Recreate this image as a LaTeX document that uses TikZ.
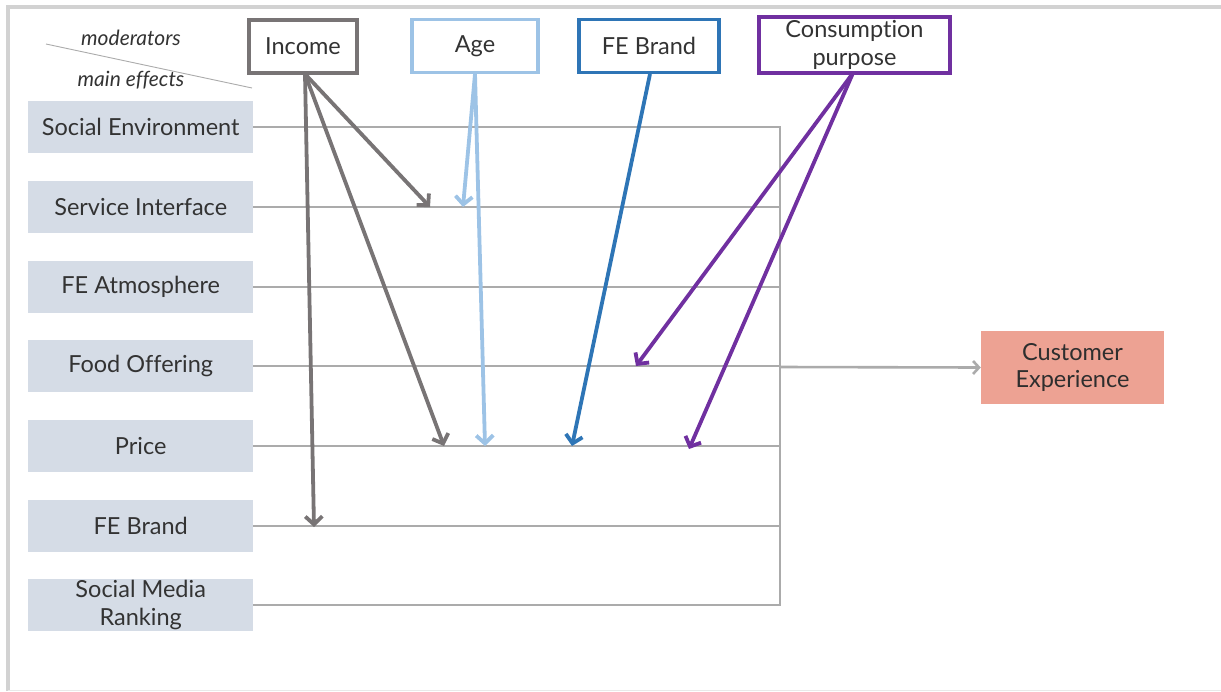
\documentclass[tikz,border=0pt]{standalone}
\usepackage{fontspec}
\setmainfont{Lato}[Ligatures=NoCommon]
\usetikzlibrary{arrows.meta}
\definecolor{framegray}{HTML}{D2D2D2}
\definecolor{linegray}{HTML}{ABABAB}
\definecolor{boxfill}{HTML}{D5DCE6}
\definecolor{txt}{HTML}{333333}
\definecolor{incomec}{HTML}{787475}
\definecolor{agec}{HTML}{9DC3E6}
\definecolor{brandc}{HTML}{2E75B6}
\definecolor{purposec}{HTML}{7030A0}
\definecolor{cxfill}{HTML}{EDA293}
\begin{document}
\begin{tikzpicture}[x=1pt,y=-1pt,
  every node/.style={text=txt,font=\fontsize{23.5}{27.5}\selectfont},
  effect/.style={fill=boxfill,minimum width=225pt,minimum height=52pt,inner sep=0pt,align=center,anchor=west},
  moderator/.style={draw,line width=3.6pt,fill=white,minimum height=53pt,inner sep=0pt,align=center},
  mainline/.style={draw=linegray,line width=2.6pt},
  modarrow/.style={line width=3.8pt,-{Straight Barb[length=8pt,width=17pt,line width=3.8pt]}}
]
\useasboundingbox (0,0) rectangle (1221,691);
% frame
\draw[framegray,line width=3.5pt] (8,691) -- (8,7) -- (1221,7);
\draw[framegray!50,line width=1pt] (8,690) -- (1221,690);

% corner legend
\coordinate (legA) at (46,44);
\coordinate (legB) at (252,88);
\draw[linegray,line width=0.9pt] (legA) -- (legB);
\node[font=\fontsize{21}{24}\selectfont\itshape] (modlab) at (131,38) {moderators};
\node[font=\fontsize{21}{24}\selectfont\itshape] (mainlab) at (131,80) {main effects};

% main effects
\node[effect] (se) at (28,127) {Social Environment};
\node[effect] (si) at (28,207) {Service Interface};
\node[effect] (fa) at (28,287) {FE Atmosphere};
\node[effect] (fo) at (28,366) {Food Offering};
\node[effect] (pr) at (28,446) {Price};
\node[effect] (fb) at (28,526) {FE Brand};
\node[effect] (sm) at (28,605) {Social Media\\Ranking};

% outcome
\node[fill=cxfill,minimum width=183pt,minimum height=73pt,inner sep=0pt,align=center,text=txt!90!black] (cx) at (1072.5,367.5) {Customer\\Experience};

% collector line
\coordinate (ctop) at (780,127);
\coordinate (cbot) at (780,606);
\coordinate (cmid) at (780,367);
\draw[mainline] (se.east) -- (ctop) -- (cbot);
\foreach \n in {si,fa,fo,pr,fb,sm}{
  \draw[mainline] (\n.east) -- (\n.east -| ctop);
}
\draw[mainline,-{Straight Barb[length=6pt,width=13pt,line width=2.6pt]}] (cmid) -- (cx.west);

% moderators
\node[moderator,draw=incomec,minimum width=108pt] (inc) at (303,46.5) {Income};
\node[moderator,draw=agec,minimum width=126pt] (age) at (475,46) {Age};
\node[moderator,draw=brandc,minimum width=140pt] (brand) at (649,46) {FE Brand};
\node[moderator,draw=purposec,minimum width=191pt,minimum height=56pt] (purp) at (854.5,45) {Consumption\\purpose};

% moderating effects
\coordinate (incS) at (305,74);
\coordinate (ageS) at (475,74);
\coordinate (brS) at (650,74);
\coordinate (puS) at (853,73);
\coordinate (incSI) at (430,207);
\coordinate (incPR) at (444,446);
\coordinate (incFB) at (314,527);
\coordinate (ageSI) at (463,207);
\coordinate (agePR) at (485,446);
\coordinate (brPR) at (572,446);
\coordinate (puFO) at (636,366);
\coordinate (puPR) at (689,449);
\draw[modarrow,incomec] (incS) -- (incSI);
\draw[modarrow,incomec] (incS) -- (incPR);
\draw[modarrow,incomec] (incS) -- (incFB);
\draw[modarrow,agec] (ageS) -- (ageSI);
\draw[modarrow,agec] (ageS) -- (agePR);
\draw[modarrow,brandc] (brS) -- (brPR);
\draw[modarrow,purposec] (puS) -- (puFO);
\draw[modarrow,purposec] (puS) -- (puPR);
\end{tikzpicture}
\end{document}
